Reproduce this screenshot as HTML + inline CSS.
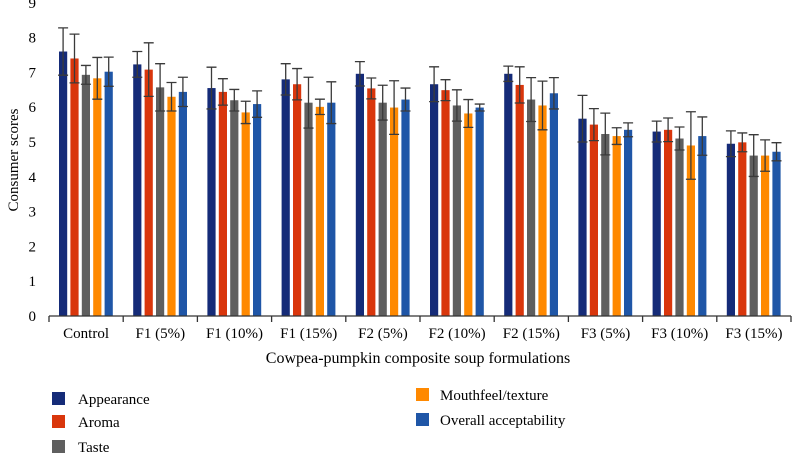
<!DOCTYPE html>
<html><head><meta charset="utf-8"><style>
body{margin:0;background:#fff;}
svg{display:block;font-family:"Liberation Serif",serif;}
</style></head><body>
<svg id="chart" width="792" height="455" viewBox="0 0 792 455">
<g id="plot"></g>
<text x="18" y="160" font-size="15" text-anchor="middle" transform="rotate(-90 18 160)">Consumer scores</text>
<text x="418" y="363" font-size="16" text-anchor="middle">Cowpea-pumpkin composite soup formulations</text>
<g font-size="15">
<g><rect x="52" y="392" width="13" height="13" fill="#152b78"/><text x="78" y="404">Appearance</text></g>
<g><rect x="52" y="415" width="13" height="13" fill="#d9360c"/><text x="78" y="427">Aroma</text></g>
<g><rect x="52" y="440" width="13" height="13" fill="#5f5f5f"/><text x="78" y="452">Taste</text></g>
<g><rect x="416" y="388" width="13" height="13" fill="#ff8900"/><text x="440" y="400">Mouthfeel/texture</text></g>
<g><rect x="416" y="413" width="13" height="13" fill="#1f56a7"/><text x="440" y="425">Overall acceptability</text></g>
</g>
</svg>
<script>
const categories=["Control","F1 (5%)","F1 (10%)","F1 (15%)","F2 (5%)","F2 (10%)","F2 (15%)","F3 (5%)","F3 (10%)","F3 (15%)"];
const appearance=[7.6,7.23,6.55,6.8,6.96,6.66,6.96,5.67,5.3,4.95];
const aroma=[7.4,7.08,6.44,6.66,6.54,6.49,6.64,5.5,5.35,4.99];
const taste=[6.93,6.57,6.2,6.13,6.13,6.05,6.22,5.23,5.1,4.61];
const mouthfeel=[6.83,6.3,5.85,6.01,5.99,5.82,6.05,5.17,4.9,4.61];
const overall=[7.02,6.44,6.09,6.13,6.22,5.99,6.4,5.35,5.17,4.72];
const errAppearance=[0.68,0.37,0.6,0.45,0.35,0.5,0.22,0.67,0.3,0.37];
const errAroma=[0.7,0.77,0.38,0.45,0.3,0.3,0.52,0.46,0.34,0.27];
const errTaste=[0.27,0.68,0.31,0.73,0.5,0.45,0.63,0.6,0.33,0.6];
const errMouthfeel=[0.6,0.41,0.32,0.22,0.77,0.4,0.7,0.24,0.97,0.45];
const errOverall=[0.42,0.42,0.38,0.6,0.33,0.1,0.45,0.2,0.55,0.26];
const yTicks=[0,1,2,3,4,5,6,7,8,9];
const seriesNames=["appearance","aroma","taste","mouthfeel","overall"];
const series=[appearance,aroma,taste,mouthfeel,overall];
const errs=[errAppearance,errAroma,errTaste,errMouthfeel,errOverall];
const colors=["#152b78","#d9360c","#5f5f5f","#ff8900","#1f56a7"];
const NS="http://www.w3.org/2000/svg";
const g=document.getElementById("plot");
const x0=49,x1=791,y0=316,pxPerUnit=34.8;
const gw=(x1-x0)/categories.length;
function y(v){return y0-v*pxPerUnit;}
function gx(i){return x0+i*gw;}
function mk(t,a){const e=document.createElementNS(NS,t);for(const k in a)e.setAttribute(k,a[k]);g.appendChild(e);return e;}
yTicks.forEach(t=>{const e=mk("text",{x:36,y:y(t)+5,"font-size":15,"text-anchor":"end"});e.textContent=t;

});
categories.forEach((c,i)=>{
 series.forEach((s,j)=>{
  const bx=gx(i)+10+j*11.4;
  const r=mk("rect",{x:bx,y:y(s[i]),width:8.2,height:y0-y(s[i]),fill:colors[j]});
  
  
  const cx=bx+4.1,hi=y(s[i]+errs[j][i]),lo=y(s[i]-errs[j][i]);
  const eb=mk("path",{d:`M${cx} ${hi}V${lo}M${cx-5} ${hi}H${cx+5}M${cx-5} ${lo}H${cx+5}`,stroke:"#3a3a3a","stroke-width":1.3,fill:"none"});
  
  
 });
 const l=mk("text",{x:gx(i)+gw/2,y:338,"font-size":15,"text-anchor":"middle"});l.textContent=c;
 
 
});
const ax=mk("path",{d:`M${x0} ${y0}H${x1}`,stroke:"#333","stroke-width":1.3});


for(let i=0;i<=categories.length;i++){const t=mk("path",{d:`M${gx(i)} ${y0}V${y0+6}`,stroke:"#333","stroke-width":1.3});

}
</script>
</body></html>
